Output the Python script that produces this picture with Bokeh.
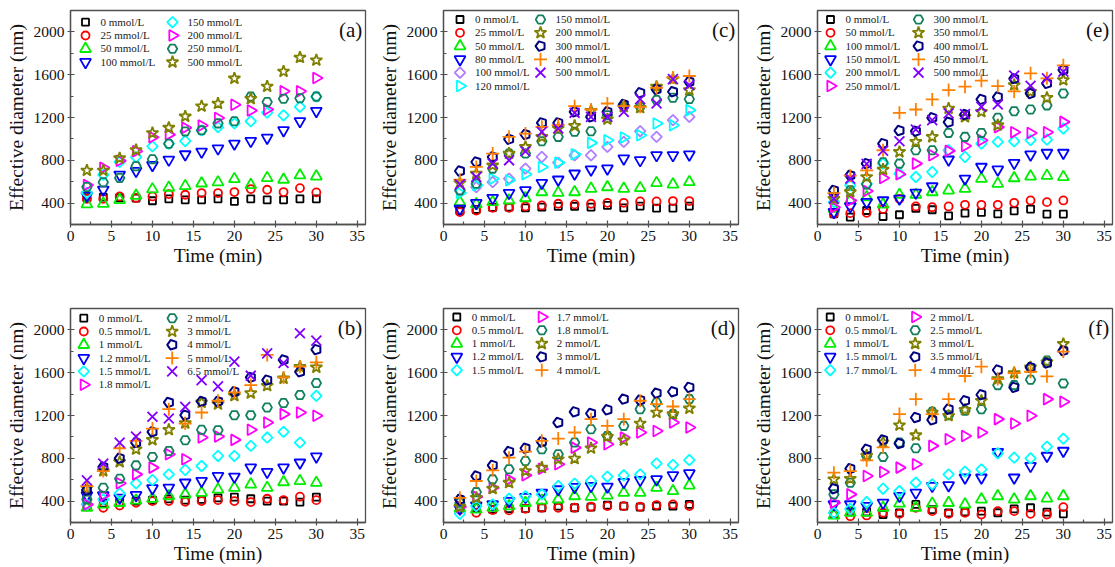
import numpy as np
from bokeh.plotting import figure
from bokeh.models import Range1d, FixedTicker, Legend, LegendItem, Label
from bokeh.layouts import row, column
from bokeh.embed import file_html
from bokeh.resources import INLINE

# ---------------- data ----------------
TIME = [2, 4, 6, 8, 10, 12, 14, 16, 18, 20, 22, 24, 26, 28, 30]
X_TICKS = [0, 5, 10, 15, 20, 25, 30, 35]
X_MINOR = [2.5, 7.5, 12.5, 17.5, 22.5, 27.5, 32.5]
Y_TICKS = [400, 800, 1200, 1600, 2000]
Y_MINOR = [200, 600, 1000, 1400, 1800, 2200]
X_LABEL = "Time (min)"
Y_LABEL = "Effective diameter (nm)"

# panel (a)
a_0 = [450, 455, 450, 447, 422, 440, 431, 431, 440, 416, 440, 431, 431, 440, 440]
a_25 = [440, 440, 462, 448, 462, 484, 478, 494, 494, 503, 531, 525, 503, 540, 500]
a_50 = [390, 395, 430, 470, 530, 545, 560, 585, 595, 625, 570, 635, 620, 660, 650]
a_100 = [470, 525, 665, 700, 755, 805, 855, 880, 910, 955, 980, 1010, 1080, 1165, 1260]
a_150 = [495, 665, 785, 830, 930, 955, 980, 1080, 1110, 1145, 1165, 1245, 1220, 1300, 1395]
a_200 = [570, 730, 795, 885, 1015, 1040, 1105, 1125, 1195, 1320, 1265, 1275, 1445, 1445, 1570]
a_250 = [550, 595, 635, 745, 810, 955, 1070, 1080, 1145, 1165, 1395, 1345, 1375, 1380, 1395]
a_500 = [705, 705, 820, 895, 1055, 1105, 1210, 1305, 1330, 1565, 1375, 1490, 1630, 1760, 1735]

# panel (c)
c_0 = [330, 340, 360, 362, 356, 362, 369, 369, 362, 378, 356, 372, 353, 353, 372]
c_25 = [316, 331, 356, 356, 369, 378, 394, 388, 394, 403, 403, 416, 416, 419, 419]
c_50 = [410, 390, 410, 425, 447, 503, 497, 503, 535, 550, 535, 541, 588, 575, 597]
c_80 = [347, 400, 447, 494, 519, 588, 619, 675, 713, 722, 816, 800, 847, 847, 853]
c_100 = [519, 550, 597, 628, 722, 831, 778, 847, 847, 925, 972, 1072, 1019, 1175, 1206]
c_120 = [494, 566, 628, 613, 669, 738, 778, 856, 963, 988, 1013, 1034, 1144, 1128, 1269]
c_150 = [519, 581, 722, 863, 863, 978, 1019, 1066, 1072, 1222, 1300, 1300, 1363, 1384, 1372]
c_200 = [588, 675, 753, 863, 925, 1019, 1097, 1122, 1263, 1184, 1300, 1291, 1488, 1559, 1456]
c_300 = [700, 784, 831, 997, 1041, 1150, 1150, 1253, 1206, 1253, 1322, 1431, 1463, 1441, 1534]
c_400 = [619, 738, 863, 1019, 1050, 1113, 1128, 1306, 1275, 1331, 1306, 1300, 1478, 1575, 1588]
c_500 = [575, 644, 769, 800, 884, 1066, 1097, 1244, 1206, 1206, 1253, 1372, 1331, 1559, 1503]

# panel (e)
e_0 = [300, 269, 331, 275, 291, 350, 338, 281, 306, 313, 300, 328, 344, 297, 297]
e_50 = [300, 306, 309, 344, 440, 369, 362, 369, 384, 384, 384, 403, 425, 409, 425]
e_100 = [347, 425, 456, 388, 478, 478, 503, 519, 535, 628, 581, 634, 650, 656, 644]
e_150 = [316, 369, 409, 425, 441, 497, 556, 806, 628, 738, 713, 775, 853, 869, 869]
e_200 = [409, 566, 581, 769, 675, 644, 691, 894, 831, 956, 972, 978, 988, 994, 1097]
e_250 = [362, 425, 513, 634, 669, 769, 847, 888, 934, 988, 1110, 1063, 1056, 1063, 1159]
e_300 = [456, 519, 575, 781, 769, 894, 894, 1056, 1019, 1056, 1197, 1259, 1275, 1313, 1425]
e_350 = [441, 503, 644, 713, 878, 972, 1019, 1284, 1206, 1253, 1128, 1503, 1440, 1384, 1550]
e_400 = [519, 659, 769, 956, 1078, 1072, 1197, 1156, 1228, 1369, 1391, 1563, 1425, 1519, 1644]
e_450 = [494, 656, 706, 894, 1244, 1275, 1369, 1456, 1488, 1544, 1494, 1444, 1613, 1566, 1688]
e_500 = [441, 628, 766, 891, 978, 1088, 1175, 1238, 1231, 1300, 1322, 1591, 1497, 1566, 1628]

# panel (b)
b_0 = [420, 380, 390, 400, 410, 420, 410, 416, 431, 438, 422, 400, 400, 391, 438]
b_05 = [350, 338, 359, 384, 400, 400, 394, 400, 409, 400, 391, 422, 409, 441, 409]
b_1 = [338, 369, 384, 406, 422, 447, 463, 478, 509, 525, 556, 525, 578, 588, 572]
b_12 = [453, 453, 431, 456, 519, 525, 572, 588, 634, 628, 713, 672, 713, 759, 816]
b_15 = [369, 416, 472, 566, 597, 650, 691, 728, 822, 822, 916, 994, 1047, 947, 1384]
b_18 = [369, 453, 566, 650, 713, 838, 791, 994, 1003, 972, 1066, 1134, 1213, 1228, 1197]
b_2 = [416, 525, 609, 734, 813, 869, 969, 1066, 1063, 1203, 1203, 1275, 1316, 1391, 1503]
b_3 = [520, 681, 766, 884, 972, 1066, 1128, 1322, 1306, 1384, 1409, 1478, 1547, 1656, 1650]
b_4 = [503, 719, 800, 947, 1047, 1322, 1203, 1331, 1331, 1422, 1556, 1531, 1719, 1609, 1816]
b_5 = [540, 681, 894, 963, 1078, 1259, 1125, 1228, 1338, 1416, 1484, 1766, 1556, 1656, 1697]
b_65 = [594, 750, 947, 1003, 1188, 1172, 1281, 1531, 1472, 1703, 1572, 1781, 1691, 1969, 1900]

# panel (d)
d_0 = [330, 340, 322, 330, 330, 338, 353, 338, 344, 363, 353, 344, 353, 353, 369]
d_05 = [320, 291, 316, 313, 328, 338, 338, 338, 347, 353, 353, 347, 363, 369, 353]
d_1 = [330, 322, 338, 353, 384, 406, 416, 447, 441, 453, 478, 478, 525, 494, 547]
d_12 = [328, 359, 369, 400, 438, 478, 509, 531, 541, 534, 578, 597, 603, 641, 659]
d_15 = [281, 353, 369, 422, 447, 463, 541, 563, 588, 628, 641, 650, 753, 738, 784]
d_17 = [347, 441, 525, 603, 641, 703, 744, 900, 947, 931, 994, 1041, 1056, 1134, 1088]
d_18 = [384, 484, 603, 697, 775, 884, 838, 947, 1072, 1009, 1103, 1259, 1322, 1213, 1353]
d_2 = [347, 431, 516, 572, 681, 713, 791, 797, 894, 1003, 969, 1125, 1228, 1213, 1266]
d_3 = [416, 634, 734, 863, 894, 953, 1134, 1234, 1219, 1253, 1353, 1344, 1409, 1422, 1463]
d_4 = [431, 588, 688, 806, 863, 963, 984, 1041, 1166, 1103, 1166, 1338, 1306, 1284, 1353]

# panel (f)
f_0 = [280, 300, 300, 275, 290, 369, 320, 290, 300, 306, 291, 328, 338, 297, 281]
f_05 = [280, 259, 266, 291, 281, 338, 306, 281, 291, 275, 306, 306, 281, 275, 344]
f_1 = [266, 291, 291, 338, 378, 338, 378, 384, 369, 416, 447, 416, 447, 425, 447]
f_15 = [369, 369, 353, 384, 447, 478, 541, 547, 619, 619, 859, 619, 728, 822, 869]
f_17 = [291, 328, 391, 516, 494, 572, 556, 650, 675, 697, 847, 806, 800, 909, 984]
f_2 = [384, 463, 634, 672, 713, 744, 916, 978, 1009, 1041, 1166, 1125, 1197, 1353, 1328]
f_25 = [463, 572, 822, 813, 947, 894, 1234, 1203, 1244, 1259, 1484, 1484, 1534, 1713, 1500]
f_3 = [603, 609, 825, 950, 1109, 1016, 1228, 1197, 1253, 1338, 1541, 1597, 1650, 1697, 1869]
f_35 = [516, 703, 884, 972, 938, 1181, 1159, 1259, 1338, 1394, 1625, 1463, 1650, 1691, 1806]
f_4 = [666, 681, 781, 903, 1213, 1353, 1213, 1353, 1569, 1656, 1541, 1597, 1609, 1566, 1797]

# series: (legend label, values, style key)
PANEL_A = [("0 mmol/L", a_0, "sq"), ("25 mmol/L", a_25, "ci"), ("50 mmol/L", a_50, "tu"),
           ("100 mmol/L", a_100, "td"), ("150 mmol/L", a_150, "di"), ("200 mmol/L", a_200, "tr"),
           ("250 mmol/L", a_250, "hx"), ("500 mmol/L", a_500, "st")]
PANEL_C = [("0 mmol/L", c_0, "sq"), ("25 mmol/L", c_25, "ci"), ("50 mmol/L", c_50, "tu"),
           ("80 mmol/L", c_80, "td"), ("100 mmol/L", c_100, "dl"), ("120 mmol/L", c_120, "tc"),
           ("150 mmol/L", c_150, "hx"), ("200 mmol/L", c_200, "st"), ("300 mmol/L", c_300, "pe"),
           ("400 mmol/L", c_400, "pl"), ("500 mmol/L", c_500, "xx")]
PANEL_E = [("0 mmol/L", e_0, "sq"), ("50 mmol/L", e_50, "ci"), ("100 mmol/L", e_100, "tu"),
           ("150 mmol/L", e_150, "td"), ("200 mmol/L", e_200, "di"), ("250 mmol/L", e_250, "tr"),
           ("300 mmol/L", e_300, "hx"), ("350 mmol/L", e_350, "st"), ("400 mmol/L", e_400, "pe"),
           ("450 mmol/L", e_450, "pl"), ("500 mmol/L", e_500, "xx")]
PANEL_B = [("0 mmol/L", b_0, "sq"), ("0.5 mmol/L", b_05, "ci"), ("1 mmol/L", b_1, "tu"),
           ("1.2 mmol/L", b_12, "td"), ("1.5 mmol/L", b_15, "di"), ("1.8 mmol/L", b_18, "tr"),
           ("2 mmol/L", b_2, "hx"), ("3 mmol/L", b_3, "st"), ("4 mmol/L", b_4, "pe"),
           ("5 mmol/L", b_5, "pl"), ("6.5 mmol/L", b_65, "xx")]
PANEL_D = [("0 mmol/L", d_0, "sq"), ("0.5 mmol/L", d_05, "ci"), ("1 mmol/L", d_1, "tu"),
           ("1.2 mmol/L", d_12, "td"), ("1.5 mmol/L", d_15, "di"), ("1.7 mmol/L", d_17, "tr"),
           ("1.8 mmol/L", d_18, "hx"), ("2 mmol/L", d_2, "st"), ("3 mmol/L", d_3, "pe"),
           ("4 mmol/L", d_4, "pl")]
PANEL_F = [("0 mmol/L", f_0, "sq"), ("0.5 mmol/L", f_05, "ci"), ("1 mmol/L", f_1, "tu"),
           ("1.5 mmol/L", f_15, "td"), ("1.7 mmol/L", f_17, "di"), ("2 mmol/L", f_2, "tr"),
           ("2.5 mmol/L", f_25, "hx"), ("3 mmol/L", f_3, "st"), ("3.5 mmol/L", f_35, "pe"),
           ("4 mmol/L", f_4, "pl")]

# ---------------- styles ----------------
FONT = "Liberation Serif"
FRAME = "#505050"
STYLE = {
    "sq": dict(marker="square", color="#000000", size=7, angle=0.0),
    "ci": dict(marker="circle", color="#FF0000", size=8, angle=0.0),
    "tu": dict(marker="triangle", color="#00EE00", size=11, angle=0.0),
    "td": dict(marker="inverted_triangle", color="#0000FF", size=11, angle=0.0),
    "di": dict(marker="square", color="#00FFFF", size=7.5, angle=np.pi / 4),
    "dl": dict(marker="square", color="#B07FFF", size=7.5, angle=np.pi / 4),
    "tr": dict(marker="triangle", color="#FF00FF", size=11, angle=-np.pi / 2),
    "tc": dict(marker="triangle", color="#00FFFF", size=11, angle=-np.pi / 2),
    "hx": dict(marker="hex", color="#12805E", size=9.5, angle=0.0),
    "st": dict(marker="star", color="#808000", size=12.5, angle=0.0),
    "pe": dict(marker="pentagon", color="#000080", size=10, angle=0.0),
    "pl": dict(marker="cross", color="#FF8000", size=13, angle=0.0),
    "xx": dict(marker="x", color="#8000FF", size=14, angle=0.0),
}

try:
    from bokeh.models import Ngon  # noqa: F401
    HAS_NGON = True
except Exception:
    HAS_NGON = False

FRAME_H = 214
GLYPH = 21
PITCH = 13.3


def draw_marks(p, xs, ys, key, **kw):
    st = STYLE[key]
    if st["marker"] == "pentagon":
        if HAS_NGON:
            try:
                return p.ngon(x=xs, y=ys, radius=st["size"] / 2, radius_units="screen", n=5,
                              angle=np.pi / 2, fill_color=None, line_color=st["color"],
                              line_width=2, **kw)
            except Exception:
                pass
        return p.scatter(x=xs, y=ys, marker="hex", size=st["size"], angle=np.pi / 2,
                         fill_color=None, line_color=st["color"], line_width=2, **kw)
    return p.scatter(x=xs, y=ys, marker=st["marker"], size=st["size"], angle=st["angle"],
                     fill_color=None, line_color=st["color"], line_width=1.8, **kw)


def make_panel(series, tag, n_first, w, border_right, h, border_bottom, c1, c2, first_row):
    p = figure(width=w, height=h, output_backend="svg", toolbar_location=None,
               x_range=Range1d(0, 36), y_range=Range1d(200, 2200),
               min_border_left=70, min_border_right=border_right,
               min_border_top=10, min_border_bottom=border_bottom)
    frame_w = w - 70 - border_right
    # pixel ranges of the frame, used only to place the legend swatches
    p.extra_x_ranges = {"px": Range1d(0, frame_w)}
    p.extra_y_ranges = {"px": Range1d(0, FRAME_H)}
    p.xgrid.visible = False
    p.ygrid.visible = False
    p.outline_line_color = FRAME
    p.outline_line_width = 1.3
    p.background_fill_color = "white"
    p.border_fill_color = "white"
    p.xaxis.ticker = FixedTicker(ticks=X_TICKS, minor_ticks=X_MINOR)
    p.yaxis.ticker = FixedTicker(ticks=Y_TICKS, minor_ticks=Y_MINOR)
    for ax in (p.xaxis[0], p.yaxis[0]):
        ax.axis_line_color = FRAME
        ax.axis_line_width = 1.3
        ax.major_tick_line_color = FRAME
        ax.minor_tick_line_color = FRAME
        ax.major_tick_line_width = 1.2
        ax.minor_tick_line_width = 1.2
        ax.major_tick_in = 4
        ax.major_tick_out = 3
        ax.minor_tick_in = 3
        ax.minor_tick_out = 0
        ax.major_label_text_font = FONT
        ax.major_label_text_font_size = "15.5px"
        ax.major_label_text_color = "#111111"
        ax.major_label_standoff = 3
        ax.axis_label_text_font = FONT
        ax.axis_label_text_font_size = "19.5px"
        ax.axis_label_text_font_style = "normal"
        ax.axis_label_text_color = "#111111"
    p.xaxis.axis_label = X_LABEL
    p.yaxis.axis_label = Y_LABEL
    p.xaxis.axis_label_standoff = 1
    p.yaxis.axis_label_standoff = 4

    for i, (lab, vals, key) in enumerate(series):
        draw_marks(p, TIME, vals, key)
        # two legend columns; each entry is a one-item legend (label text), with its
        # swatch drawn at the same spot so rotated markers keep their orientation
        col_x = c1 if i < n_first else c2
        row_i = i if i < n_first else i - n_first
        centre_from_top = first_row + row_i * PITCH
        cy = FRAME_H - centre_from_top
        draw_marks(p, [col_x], [cy], key, x_range_name="px", y_range_name="px")
        proxy = p.scatter(x=[], y=[], marker="circle", size=1, alpha=0)
        leg = Legend(items=[LegendItem(label=lab, renderers=[proxy])],
                     location=(col_x - GLYPH / 2, cy - GLYPH / 2),
                     orientation="vertical", padding=0, margin=0, spacing=0,
                     glyph_width=GLYPH, glyph_height=GLYPH, label_height=GLYPH, label_standoff=5,
                     label_text_font=FONT, label_text_font_size="11px",
                     label_text_color="#222222",
                     border_line_alpha=0, background_fill_alpha=0)
        p.add_layout(leg, "center")

    p.add_layout(Label(x=35.6, y=2020, text=tag, text_align="right", text_baseline="middle",
                       text_font=FONT, text_font_size="21px", text_color="#111111"))
    return p


H1, H2 = 298, 269
pa = make_panel(PANEL_A, "(a)", 4, 373, 8, H1, 74, 15, 102, 11.7)
pc = make_panel(PANEL_C, "(c)", 6, 374, 9, H1, 74, 16.5, 97, 9)
pe = make_panel(PANEL_E, "(e)", 6, 368, 3, H1, 74, 13, 101, 9)
pb = make_panel(PANEL_B, "(b)", 6, 373, 8, H2, 45, 13.3, 101.7, 9.7)
pd = make_panel(PANEL_D, "(d)", 5, 374, 9, H2, 45, 13.3, 98.3, 8.5)
pf = make_panel(PANEL_F, "(f)", 5, 368, 3, H2, 45, 12.7, 97.7, 8.5)

layout = column(row(pa, pc, pe), row(pb, pd, pf))
open("out.html", "w").write(file_html(layout, INLINE))
